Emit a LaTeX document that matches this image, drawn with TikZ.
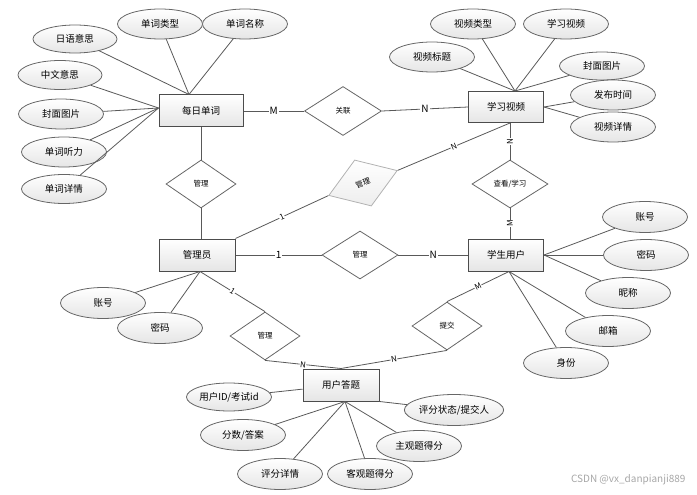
\documentclass[tikz,border=0pt]{standalone}
\usepackage{fontspec}
\setmainfont{Noto Sans CJK SC}
\usetikzlibrary{shapes,positioning}

\begin{document}
\begin{tikzpicture}[x=1pt,y=-1pt]
      \tikzstyle{entity} = [rectangle, draw=black!70, line width=1pt, top color=white, bottom color=black!10, minimum width=76pt, minimum height=32pt, inner sep=0pt, font=\fontsize{9.5}{11}\selectfont]
      \tikzstyle{attr} = [ellipse, draw=black!60, line width=0.8pt, top color=white, bottom color=black!10, minimum width=85pt, minimum height=30pt, inner sep=0pt, font=\fontsize{9.5}{11}\selectfont]
      \tikzstyle{rel} = [diamond, draw=black!60, line width=0.8pt, fill=white, minimum width=76pt, minimum height=48pt, inner sep=0pt, font=\fontsize{7.5}{9}\selectfont]
      \tikzstyle{link} = [draw=black!65, line width=0.8pt]
      \tikzstyle{card} = [fill=white, inner sep=1pt, font=\fontsize{10}{12}\selectfont]
      \tikzstyle{smallcard} = [fill=white, inner sep=0.5pt, font=\fontsize{8}{10}\selectfont]
      \useasboundingbox (0,0) rectangle (697,495);
      % entities
      \node (wd) [entity, minimum width=84pt] at (201,111) {每日单词};
      \node (lv) [entity, minimum width=75pt, minimum height=31pt] at (506,107) {学习视频};
      \node (adm) [entity] at (197,255) {管理员};
      \node (stu) [entity, minimum width=75pt] at (506,255) {学生用户};
      \node (ans) [entity] at (341,385) {用户答题};
      % relations
      \node (rel1) [rel, minimum width=77pt, minimum height=49pt] at (343,111) {关联};
      \node (rel2) [rel, minimum width=70pt] at (201,184) {管理};
      \node (rel3) [rel, draw=black!30, top color=white, bottom color=black!7, minimum width=73pt, minimum height=49pt, rotate=20] at (363,183) {管理};
      \node (rel4) [rel] at (510,184) {查看/学习};
      \node (rel5) [rel] at (360,255) {管理};
      \node (rel6) [rel, minimum width=70pt] at (265,336) {管理};
      \node (rel7) [rel, minimum width=70pt] at (447,326) {提交};
      % attributes of wd
      \node (a1) [attr, minimum width=84pt, minimum height=28pt] at (75,39) {日语意思};
      \node (a2) [attr] at (160,24) {单词类型};
      \node (a3) [attr] at (245,24) {单词名称};
      \node (a4) [attr, minimum width=84pt, minimum height=29pt] at (60,75) {中文意思};
      \node (a5) [attr] at (61,114) {封面图片};
      \node (a6) [attr] at (64,152) {单词听力};
      \node (a7) [attr, minimum height=29pt] at (64,189) {单词详情};
      % attributes of lv
      \node (b1) [attr] at (473,24) {视频类型};
      \node (b2) [attr] at (566,24) {学习视频};
      \node (b3) [attr] at (432,57) {视频标题};
      \node (b4) [attr, minimum height=28pt] at (602,66) {封面图片};
      \node (b5) [attr] at (613,95) {发布时间};
      \node (b6) [attr] at (613,127) {视频详情};
      % attributes of adm
      \node (c1) [attr, minimum height=31pt] at (103,303) {账号};
      \node (c2) [attr, minimum height=31pt] at (160,328) {密码};
      % attributes of stu
      \node (d1) [attr, minimum height=31pt] at (645,217) {账号};
      \node (d2) [attr, minimum height=31pt] at (646,255) {密码};
      \node (d3) [attr, minimum height=31pt] at (628,293) {昵称};
      \node (d4) [attr, minimum height=31pt] at (608,331) {邮箱};
      \node (d5) [attr, minimum height=31pt] at (566,363) {身份};
      % attributes of ans
      \node (e1) [attr, minimum height=28pt] at (229,397) {用户ID/考试id};
      \node (e2) [attr, minimum height=31pt] at (454,410) {评分状态/提交人};
      \node (e3) [attr, minimum height=31pt] at (243,435) {分数/答案};
      \node (e4) [attr, minimum height=31pt] at (419,446) {主观题得分};
      \node (e5) [attr, minimum height=31pt] at (280,474) {评分详情};
      \node (e6) [attr, minimum height=31pt] at (370,474) {客观题得分};
      \node (mark) [anchor=east, text=black!35, font=\fontsize{10}{12}\selectfont] at (689,480) {CSDN @vx\_danpianji889};
      % meeting points
      \coordinate (wdT) at ([xshift=-12pt]wd.north);
      \coordinate (wdL) at ([yshift=3pt]wd.west);
      \coordinate (lvT) at ([xshift=9pt]lv.north);
      \coordinate (lvB) at ([xshift=4pt]lv.south);
      \coordinate (admB) at ([xshift=3pt]adm.south);
      \coordinate (stuT) at ([xshift=4pt]stu.north);
      \coordinate (stuB) at ([xshift=3pt]stu.south);
      \coordinate (ansB) at ([xshift=4pt]ans.south);
      % attribute links
      \draw [link] (a1)--(wdT);
      \draw [link] (a2)--(wdT);
      \draw [link] (a3)--(wdT);
      \draw [link] (a4)--(wdL);
      \draw [link] (a5)--(wdL);
      \draw [link] (a6)--(wdL);
      \draw [link] (a7)--(wdL);
      \draw [link] (b1)--(lvT);
      \draw [link] (b2)--(lvT);
      \draw [link] (b3)--(lvT);
      \draw [link] (b4)--(lvT);
      \draw [link] (b5)--(lv.east);
      \draw [link] (b6)--(lv.east);
      \draw [link] (c1)--(admB);
      \draw [link] (c2)--(admB);
      \draw [link] (d1)--(stu.east);
      \draw [link] (d2)--(stu.east);
      \draw [link] (d3)--(stu.east);
      \draw [link] (d4)--(stuB);
      \draw [link] (d5)--(stuB);
      \draw [link] (e1)--(ans);
      \draw [link] (e2)--(ans.south east);
      \draw [link] (e3)--(ansB);
      \draw [link] (e4)--(ansB);
      \draw [link] (e5)--(ansB);
      \draw [link] (e6)--(ansB);
      % relation links
      \draw [link] (wd.east)--node[card]{M} (rel1.west);
      \draw [link] (rel1.east)--node[card]{N} (lv.west);
      \draw [link] (wd.south)--(rel2.north);
      \draw [link] (rel2.south)--(rel2.south |- adm.north);
      \draw [link] (adm.north east)--node[smallcard, sloped]{1} (rel3.west);
      \draw [link] (rel3.east)--node[smallcard, sloped]{N} (lvB);
      \draw [link] (lvB)--node[smallcard, rotate=90]{N} (rel4.north);
      \draw [link] (rel4.south)--node[smallcard, rotate=90]{M} (stuT);
      \draw [link] (adm.east)--node[card]{1} (rel5.west);
      \draw [link] (rel5.east)--node[card]{N} (stu.west);
      \draw [link] (admB)--node[smallcard, sloped]{1} (rel6.north);
      \draw [link] (rel6.south)--node[smallcard, sloped]{N} (ans.north);
      \draw [link] (stuB)--node[smallcard, sloped]{M} (rel7.north);
      \draw [link] (rel7.south)--node[smallcard, sloped]{N} (ans.north);
    \end{tikzpicture}
\end{document}
